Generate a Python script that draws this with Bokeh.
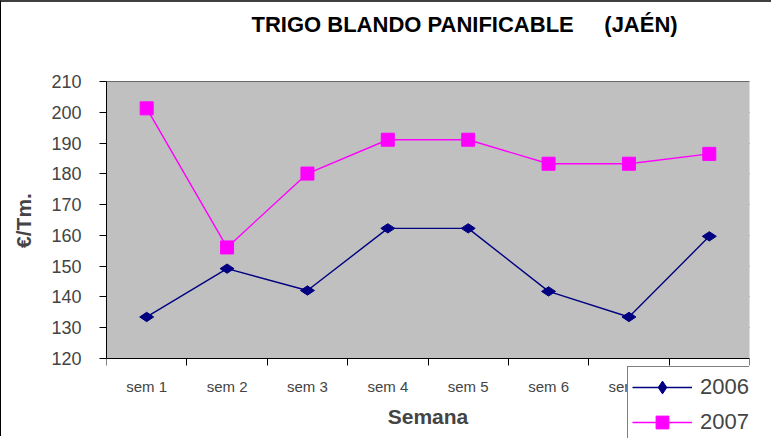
import math
from bokeh.plotting import figure
from bokeh.models import Range1d, FixedTicker, Legend, LegendItem, BoxAnnotation, Label
from bokeh.embed import file_html
from bokeh.resources import INLINE

title_text = "TRIGO BLANDO PANIFICABLE\u00a0\u00a0\u00a0\u00a0\u00a0(JAÉN)"
weeks = ["sem 1", "sem 2", "sem 3", "sem 4", "sem 5", "sem 6", "sem 7", "sem 8"]
y2006 = [133.5, 149.2, 142.1, 162.3, 162.3, 141.8, 133.5, 159.7]
y2007 = [201.3, 156.1, 180.1, 191.1, 191.1, 183.3, 183.3, 186.5]
yticks = [120, 130, 140, 150, 160, 170, 180, 190, 200, 210]
xpos = list(range(1, len(weeks) + 1))

FONT = "Liberation Sans"
YMIN, YMAX = 120, 210

# The frame fills the canvas height so that the title (above) and the legend
# (below the plot area, as in the reference) are not clipped; the plot area
# itself is a box between YMIN and YMAX.
p = figure(width=771, height=436, output_backend="svg", toolbar_location=None,
           x_range=Range1d(0.5, 8.5), y_range=Range1d(94.0, 235.7),
           min_border_left=105, min_border_right=23, min_border_top=0,
           min_border_bottom=0)
p.styles = {"border-left": "1px solid #000000", "border-top": "2px solid #404040"}
p.background_fill_color = "white"
p.border_fill_color = "white"
p.outline_line_color = None

p.add_layout(BoxAnnotation(bottom=YMIN, top=YMAX, fill_color="#C0C0C0", fill_alpha=1,
                           line_color="#808080", line_width=1, level="underlay"))

p.add_layout(Label(x=4.955, y=228.5, text=title_text, text_align="center",
                   text_baseline="middle", text_font=FONT, text_font_size="22px",
                   text_font_style="bold", text_color="black"))

# grid
p.xgrid.visible = False
p.ygrid.ticker = FixedTicker(ticks=yticks)
p.ygrid.grid_line_color = "black"
p.ygrid.grid_line_width = 1

# y axis
p.yaxis.ticker = FixedTicker(ticks=yticks)
p.yaxis.bounds = (YMIN, YMAX)
p.yaxis.axis_label = "€/Tm."
p.yaxis.axis_label_text_font = FONT
p.yaxis.axis_label_text_font_size = "21px"
p.yaxis.axis_label_text_font_style = "bold"
p.yaxis.axis_label_standoff = 13
p.yaxis.major_label_text_font = FONT
p.yaxis.major_label_text_font_size = "18px"
p.yaxis.major_label_standoff = 18
p.yaxis.major_tick_out = 7
p.yaxis.major_tick_in = 0
p.yaxis.minor_tick_line_color = None
p.yaxis.axis_line_color = "black"
p.yaxis.major_tick_line_color = "black"

# x axis drawn at y = 120: labels at centres, ticks at boundaries (minor)
p.xaxis.fixed_location = YMIN
p.xaxis.ticker = FixedTicker(ticks=xpos, minor_ticks=[x - 0.5 for x in xpos] + [8.5])
p.xaxis.major_label_overrides = {x: w for x, w in zip(xpos, weeks)}
p.xaxis.major_tick_out = 0
p.xaxis.major_tick_in = 0
p.xaxis.minor_tick_out = 7
p.xaxis.minor_tick_in = 0
p.xaxis.minor_tick_line_color = "black"
p.xaxis.axis_line_color = "black"
p.xaxis.major_label_text_font = FONT
p.xaxis.major_label_text_font_size = "15px"
p.xaxis.major_label_standoff = 12
p.xaxis.axis_label = "Semana"
p.xaxis.axis_label_text_font = FONT
p.xaxis.axis_label_text_font_size = "21px"
p.xaxis.axis_label_text_font_style = "bold"
p.xaxis.axis_label_standoff = 7

l1 = p.line(xpos, y2006, line_color="#000080", line_width=1.4)
s1 = p.scatter(xpos, y2006, marker="diamond", size=14, angle=math.pi / 2,
               fill_color="#000080", line_color="#000080")
l2 = p.line(xpos, y2007, line_color="#FF00FF", line_width=1.4)
s2 = p.scatter(xpos, y2007, marker="square", size=13, fill_color="#FF00FF",
               line_color="#FF00FF")

legend = Legend(items=[LegendItem(label="2006", renderers=[l1, s1]),
                       LegendItem(label="2007", renderers=[l2, s2])],
                location=(521, -5), orientation="vertical",
                glyph_width=60, glyph_height=32, label_height=32,
                label_standoff=8, spacing=3, padding=4, margin=0,
                label_text_font=FONT, label_text_font_size="22px",
                border_line_color="black", border_line_width=1,
                background_fill_color="white", background_fill_alpha=1)
p.add_layout(legend, "center")

open("out.html", "w").write(file_html(p, INLINE))
